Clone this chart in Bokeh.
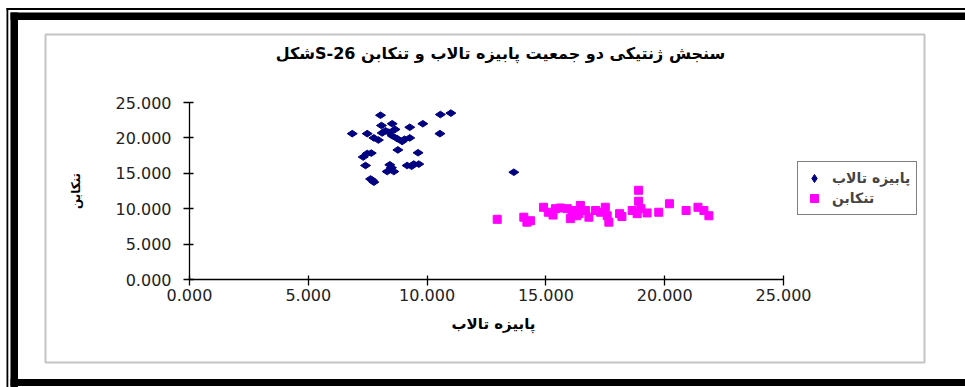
import math
from bokeh.plotting import figure
from bokeh.models import (Range1d, FixedTicker, NumeralTickFormatter, Legend,
                          LegendItem, BoxAnnotation, Label, LinearAxis)
from bokeh.embed import file_html
from bokeh.resources import INLINE

# ---------------- data ----------------
title_text = "شکلS-26 سنجش ژنتیکی دو جمعیت پابیزه تالاب و تنکابن"
series_a_name = "پابیزه تالاب"
series_b_name = "تنکابن"
x_label = "پابیزه تالاب"
y_label = "تنکابن"

a_x = [8.04, 10.56, 11.0, 8.08, 8.53, 9.27, 9.82, 6.85, 7.48, 7.76, 8.11, 8.39,
       8.53, 8.74, 8.95, 9.27, 10.54, 8.77, 9.62, 7.48, 7.65, 7.31, 7.41, 8.43,
       9.16, 9.44, 9.65, 8.32, 8.60, 7.62, 7.76, 13.65, 8.25, 8.65, 9.05, 7.95,
       8.5, 9.35, 7.7]
a_y = [23.2, 23.3, 23.5, 21.75, 22.0, 21.5, 22.0, 20.6, 20.6, 20.0, 20.7, 20.8,
       20.3, 19.9, 19.5, 20.0, 20.6, 18.3, 17.9, 17.8, 17.85, 17.3, 16.1, 16.2,
       16.1, 16.3, 16.3, 15.25, 15.25, 14.2, 13.75, 15.15, 21.0, 21.2, 19.8, 19.7,
       15.8, 16.0, 14.0]

b_x = [12.95, 14.07, 14.2, 14.35, 14.9, 15.1, 15.3, 15.61, 15.9, 16.1, 16.45,
       16.39, 16.03, 16.67, 16.81, 17.09, 17.5, 17.58, 17.65, 18.2, 18.63, 18.9,
       18.9, 18.84, 19.26, 19.75, 20.2, 20.9, 21.4, 21.65, 21.86, 15.4, 16.3,
       17.3, 18.1, 19.0]
b_y = [8.5, 8.8, 8.1, 8.3, 10.2, 9.5, 9.1, 10.1, 10.0, 9.75, 10.45, 9.3, 8.6,
       9.75, 8.8, 9.75, 10.2, 9.0, 8.1, 8.9, 9.75, 12.6, 11.05, 9.3, 9.4, 9.5,
       10.7, 9.75, 10.2, 9.75, 9.0, 10.0, 9.0, 9.5, 9.3, 10.0]

x_ticks = [0, 5, 10, 15, 20, 25]
y_ticks = [0, 5, 10, 15, 20, 25]
x_bounds = (0, 25)
y_bounds = (0, 25)

# ---------------- layout ----------------
W, H = 965, 387
FL, FR, FT, FB = 189, 783, 102, 279   # pixel position of the data area


def px2x(px):
    return (px - FL) / (FR - FL) * (x_bounds[1] - x_bounds[0]) + x_bounds[0]


def py2y(py):
    return (FB - py) / (FB - FT) * (y_bounds[1] - y_bounds[0]) + y_bounds[0]


p = figure(width=W, height=H, output_backend="svg", toolbar_location=None, title=None,
           x_range=Range1d(px2x(0), px2x(W)), y_range=Range1d(py2y(H), py2y(0)),
           x_axis_location=None, y_axis_location=None,
           min_border=0, min_border_left=0, min_border_right=0,
           min_border_top=0, min_border_bottom=0)
p.outline_line_color = None
p.background_fill_color = "white"
p.border_fill_color = "white"
for g in p.grid:
    g.visible = False


def band(x0, x1, y0, y1, color="black"):
    p.add_layout(BoxAnnotation(left=px2x(x0), right=px2x(x1), top=py2y(y0), bottom=py2y(y1),
                               fill_color=color, fill_alpha=1, line_alpha=0, level="underlay"))


# outer decorative frame
band(6, W, 7.5, 9.5)
band(6, 7.8, 7.5, H)
band(10, W, 12, 19.5)
band(10, 17.5, 12, H)
band(10, W, 378.5, 385.5)

# inner chart box
p.add_layout(BoxAnnotation(left=px2x(45), right=px2x(924), top=py2y(34), bottom=py2y(362),
                           fill_alpha=0, line_color="#3a3a3a", line_width=2, level="underlay"))

# title
p.add_layout(Label(x=px2x(500), y=py2y(53), text=title_text, text_align="center",
                   text_baseline="middle", text_font="DejaVu Sans",
                   text_font_style="bold", text_font_size="16px", text_color="black"))

# x axis title
p.add_layout(Label(x=px2x(493), y=py2y(323), text=x_label, text_align="center",
                   text_baseline="middle", text_font="DejaVu Sans",
                   text_font_style="bold", text_font_size="15px", text_color="black"))

ra = p.scatter(a_x, a_y, marker="diamond", angle=math.pi / 2, size=10,
               fill_color="#000080", line_color="#000080")
rb = p.scatter(b_x, b_y, marker="square", size=8,
               fill_color="#FF00FF", line_color="#FF00FF")

xaxis = LinearAxis(fixed_location=y_bounds[0], bounds=x_bounds)
yaxis = LinearAxis(fixed_location=x_bounds[0], bounds=y_bounds)
p.add_layout(xaxis, "below")
p.add_layout(yaxis, "left")

for ax, ticks in ((xaxis, x_ticks), (yaxis, y_ticks)):
    ax.ticker = FixedTicker(ticks=ticks)
    ax.formatter = NumeralTickFormatter(format="0.000")
    ax.minor_tick_line_color = None
    ax.major_tick_in = 4
    ax.major_tick_out = 6
    ax.axis_line_color = "black"
    ax.axis_line_width = 1.3
    ax.major_tick_line_color = "black"
    ax.major_tick_line_width = 1.3
    ax.major_label_text_font = "DejaVu Sans"
    ax.major_label_text_font_size = "16px"
    ax.major_label_text_color = "#222222"
    ax.axis_label_text_font = "DejaVu Sans"
    ax.axis_label_text_font_style = "bold"
    ax.axis_label_text_font_size = "12px"
    ax.axis_label_text_color = "black"

yaxis.axis_label = y_label
xaxis.major_label_standoff = 3
yaxis.major_label_standoff = 12
yaxis.axis_label_standoff = 30

legend = Legend(items=[LegendItem(label=series_a_name, renderers=[ra]),
                       LegendItem(label=series_b_name, renderers=[rb])],
                location=(797, H - 215), margin=0, padding=6, spacing=0,
                label_height=20, glyph_height=20, glyph_width=20, label_standoff=8,
                border_line_color="black", border_line_width=1.5,
                label_text_font="DejaVu Sans", label_text_font_style="bold",
                label_text_font_size="14px", background_fill_color="white")
p.add_layout(legend)

open("out.html", "w").write(file_html(p, INLINE))
